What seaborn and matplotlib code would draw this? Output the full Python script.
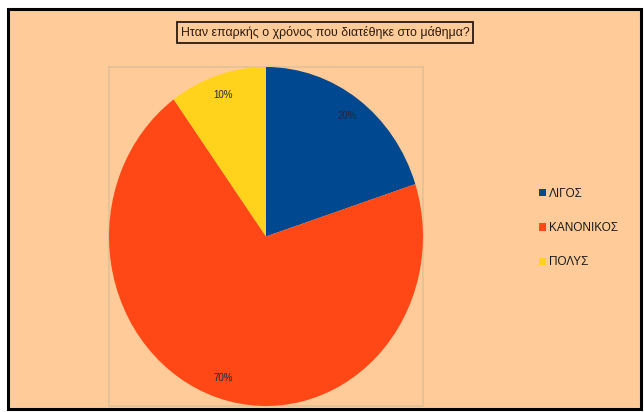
import matplotlib
matplotlib.use("Agg")
import matplotlib.pyplot as plt
from matplotlib.patches import Rectangle, Patch
import seaborn as sns

# Survey answers and their shares (%)
categories = ["ΛΙΓΟΣ", "ΚΑΝΟΝΙΚΟΣ", "ΠΟΛΥΣ"]
shares = [20, 70, 10]
title = "Ηταν επαρκής ο χρόνος που διατέθηκε στο μάθημα?"

sns.set_style("white")
plt.rcParams["font.family"] = ["Liberation Sans", "DejaVu Sans"]

palette = sns.color_palette(["#00488f", "#ff4815", "#ffd21c"])
peach = "#ffcc99"

W, H = 644, 412
fig = plt.figure(figsize=(W / 100, H / 100), dpi=100)
fig.patch.set_facecolor("white")

def fx(px):
    return px / W

def fy(py):
    return 1 - py / H

# Outer chart frame
fig.patches.append(Rectangle((fx(8), fy(409)), fx(641) - fx(8), fy(9) - fy(409),
                             transform=fig.transFigure, facecolor=peach,
                             edgecolor="black", linewidth=2.2, zorder=-10))

# Plot area
left, right, top, bottom = 109, 423, 67, 406
ax = fig.add_axes([fx(left), fy(bottom), fx(right) - fx(left), fy(top) - fy(bottom)])
ax.set_zorder(1)
ax.set_facecolor(peach)

wedges, texts, autotexts = ax.pie(
    shares, colors=palette, startangle=90, counterclock=False,
    autopct="%d%%", pctdistance=0.88, radius=1.0, frame=True,
    textprops=dict(fontsize=7, color="#2a2440"),
    wedgeprops=dict(linewidth=0),
)
ax.set_aspect("auto")
ax.set_xlim(-1.0, 1.0)
ax.set_ylim(-1.0, 1.0)
ax.set_xticks([])
ax.set_yticks([])
for s in ax.spines.values():
    s.set_visible(True)
    s.set_color("#e3c096")
    s.set_linewidth(1.2)
    s.set_zorder(0)

# Title in a framed box
fig.text(fx(325), fy(32.5), title, ha="center", va="center", fontsize=8.9,
         color="#2a1a10", zorder=2,
         bbox=dict(boxstyle="square,pad=0.3", facecolor=peach,
                   edgecolor="#2a1a10", linewidth=1.3))

# Legend
handles = [Patch(facecolor=c, edgecolor="none") for c in palette]
leg = fig.legend(handles, categories, loc="center left",
                 bbox_to_anchor=(fx(533), fy(228)), frameon=False,
                 fontsize=8.5, handlelength=0.6, handleheight=0.6,
                 handletextpad=0.25, labelspacing=1.9, borderpad=0,
                 labelcolor="#1a1a1a")
leg.set_zorder(2)

fig.savefig("out.png", dpi=100, facecolor=fig.get_facecolor())
